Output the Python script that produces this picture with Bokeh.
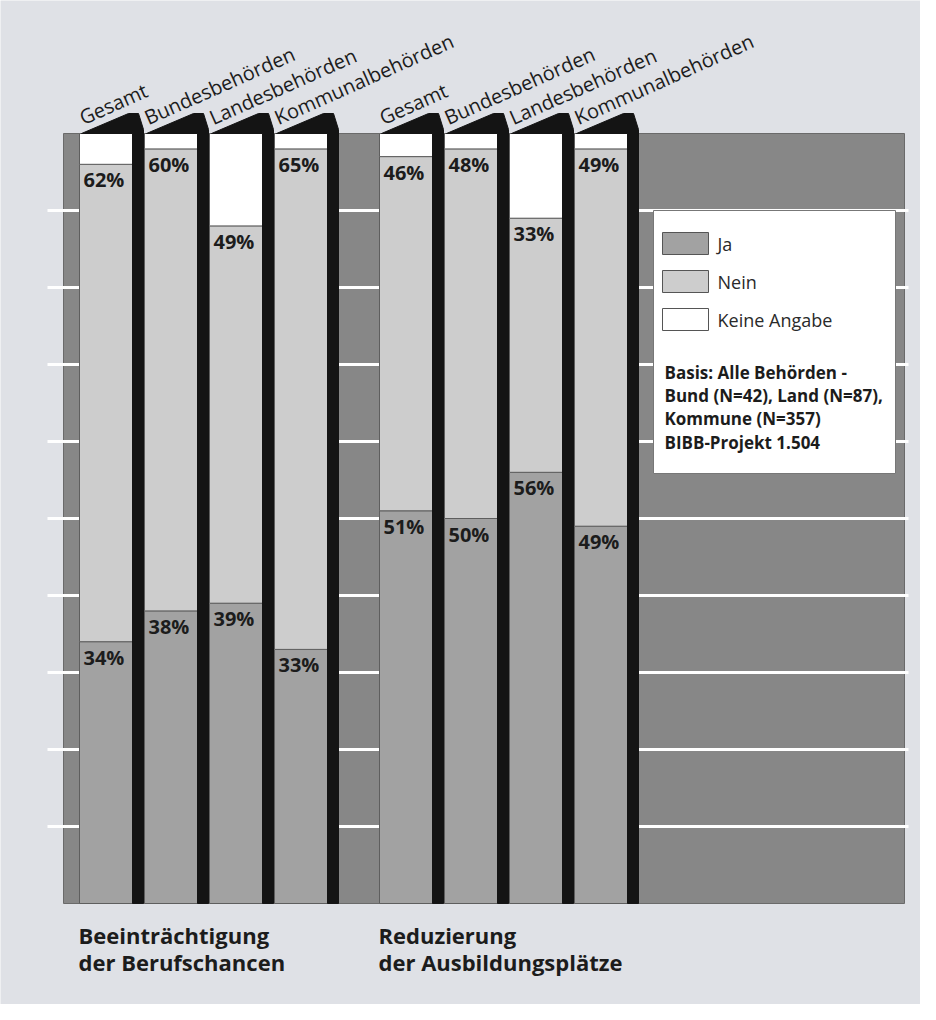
import math
from bokeh.plotting import figure
from bokeh.models import Range1d, ColumnDataSource
from bokeh.core.properties import value
from bokeh.embed import file_html
from bokeh.resources import INLINE

# ---------------- data ----------------
categories = ["Gesamt", "Bundesbehörden", "Landesbehörden", "Kommunalbehörden"]
groups = ["Beeinträchtigung\nder Berufschancen", "Reduzierung\nder Ausbildungsplätze"]
ja_1 = [34, 38, 39, 33]
nein_1 = [62, 60, 49, 65]
ja_2 = [51, 50, 56, 49]
nein_2 = [46, 48, 33, 49]
ja_values = [ja_1, ja_2]
nein_values = [nein_1, nein_2]
legend_labels = ["Ja", "Nein", "Keine Angabe"]
note_lines = ["Basis: Alle Behörden -", "Bund (N=42), Land (N=87),",
              "Kommune (N=357)", "BIBB-Projekt 1.504"]
grid_values = [10, 20, 30, 40, 50, 60, 70, 80, 90]

# ---------------- layout / style ----------------
FONT = "Open Sans"
BG = "#dfe1e6"
DARK = "#878787"
JA_C = "#a2a2a2"
NEIN_C = "#cdcdcd"
KA_C = "#ffffff"
BLACK = "#141414"
TXT = "#1c1c1c"

W, H = 920, 1004
PX = 7.7                      # pixels per percent
Y0 = 903                      # canvas y of 0 %
def ypx(px):                  # pixel distance -> percent units
    return px / PX
def sy(s):                    # canvas y -> percent
    return (Y0 - s) / PX

p = figure(width=W, height=H, output_backend="svg", toolbar_location=None,
           x_range=Range1d(0, W), y_range=Range1d(sy(H), sy(0)),
           min_border=0, background_fill_color=BG, border_fill_color=BG,
           outline_line_color=None)
p.axis.visible = False
p.grid.visible = False

# plot area
PL, PR = 63, 904
p.quad(left=[PL], right=[PR], bottom=[0], top=[100], fill_color=DARK,
       line_color="#6a6a6a", line_width=1)
# grid lines (white)
p.segment(x0=[47] * len(grid_values), x1=[908] * len(grid_values),
          y0=grid_values, y1=grid_values, line_color="white", line_width=3)

BAR_W = 53
PITCH = 65
STRIP = 11
group_x0 = [79, 379]

for g in range(len(groups)):
    lefts, rights, ja, nein_top = [], [], [], []
    for j in range(len(categories)):
        L = group_x0[g] + j * PITCH
        lefts.append(L)
        rights.append(L + BAR_W)
        ja.append(ja_values[g][j])
        nein_top.append(ja_values[g][j] + nein_values[g][j])
    src = ColumnDataSource(dict(left=lefts, right=rights, ja=ja, nt=nein_top,
                                zero=[0] * len(lefts), full=[100] * len(lefts)))
    p.quad(left="left", right="right", bottom="zero", top="ja", source=src,
           fill_color=JA_C, line_color="#5e5e5e", line_width=1)
    p.quad(left="left", right="right", bottom="ja", top="nt", source=src,
           fill_color=NEIN_C, line_color="#5e5e5e", line_width=1)
    p.quad(left="left", right="right", bottom="nt", top="full", source=src,
           fill_color=KA_C, line_color="#5e5e5e", line_width=1)

    # black strips with tabs
    xs, ys = [], []
    for L in lefts:
        xs.append([L + 2, L + 49, L + 59, L + BAR_W + STRIP, L + BAR_W + STRIP,
                   L + BAR_W, L + BAR_W])
        ys.append([100, 100 + ypx(20), 100 + ypx(20), 100 + ypx(4), 0, 0, 100])
    p.patches(xs=xs, ys=ys, fill_color=BLACK, line_color=BLACK, line_width=1)

    # rotated category labels
    p.text(x=[L + 1 for L in lefts], y=[100 + ypx(15)] * len(lefts), text=categories,
           angle=math.radians(24), text_font=value(FONT), text_font_size="20px",
           text_color=TXT, text_baseline="alphabetic", text_align="left")

    # percentage labels
    p.text(x=[L + 4 for L in lefts], y=nein_top,
           text=[f"{v}%" for v in nein_values[g]], text_font=value(FONT),
           text_font_size="20px", text_font_style="bold", text_color=TXT,
           text_baseline="top", y_offset=2)
    p.text(x=[L + 4 for L in lefts], y=ja,
           text=[f"{v}%" for v in ja_values[g]], text_font=value(FONT),
           text_font_size="20px", text_font_style="bold", text_color=TXT,
           text_baseline="top", y_offset=2)

    # group labels
    lines = groups[g].split("\n")
    p.text(x=[group_x0[g] - 1] * 2, y=[sy(934), sy(961)],
           text=lines, text_font=value(FONT), text_font_size="22px",
           text_font_style="bold", text_color=TXT, text_baseline="alphabetic")

# legend box
p.quad(left=[653], right=[895], bottom=[sy(473)], top=[sy(210)],
       fill_color="white", line_color="#777777", line_width=1)
sw_top = [232, 270, 308]
p.quad(left=[662] * 3, right=[708] * 3, bottom=[sy(t + 22) for t in sw_top],
       top=[sy(t) for t in sw_top], fill_color=[JA_C, NEIN_C, KA_C],
       line_color="#555555", line_width=1)
p.text(x=[717] * 3, y=[sy(t + 11) for t in sw_top], text=legend_labels,
       text_font=value(FONT), text_font_size="18px", text_color="#2a2a2a",
       text_baseline="middle")
note_y = [372, 395, 418, 442]
p.text(x=[664] * 4, y=[sy(v) for v in note_y], text=note_lines,
       text_font=value(FONT), text_font_size="17px", text_font_style="bold",
       text_color=TXT, text_baseline="middle")

open("out.html", "w").write(file_html(p, INLINE))
